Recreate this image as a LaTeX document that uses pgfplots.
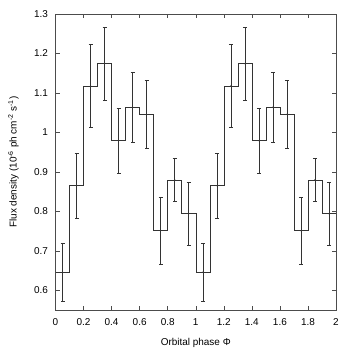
\documentclass[border=0pt]{standalone}
\usepackage{fontspec}
\setmainfont{Liberation Sans}
\usepackage{pgfplots}
\pgfplotsset{compat=1.18}
\usepackage{pgfplotstable}

\pgfplotstableread{
x     y      e
0.05  0.646  0.073
0.15  0.865  0.082
0.25  1.118  0.105
0.35  1.174  0.093
0.45  0.979  0.082
0.55  1.064  0.089
0.65  1.046  0.087
0.75  0.751  0.086
0.85  0.880  0.055
0.95  0.794  0.081
1.05  0.646  0.073
1.15  0.865  0.082
1.25  1.118  0.105
1.35  1.174  0.093
1.45  0.979  0.082
1.55  1.064  0.089
1.65  1.046  0.087
1.75  0.751  0.086
1.85  0.880  0.055
1.95  0.794  0.081
}\fluxdata

\begin{document}
\fontsize{10}{12}\selectfont
\begin{tikzpicture}
\useasboundingbox (-55.5bp,-44bp) rectangle (298.5bp,310bp);
\begin{axis}[scale only axis, width=280.5bp, height=296bp,
  xmin=0, xmax=2, ymin=0.55, ymax=1.3,
  xtick={0,0.2,...,2.01}, ytick={0.6,0.7,...,1.31},
  tick align=inside, major tick length=4bp,
  axis line style={gray!60!black, line width=0.6pt},
  every tick/.style={gray!60!black, line width=0.5pt},
  /pgf/number format/assume math mode=true,
  ticklabel style={font=\fontsize{10}{12}\selectfont},
  xticklabel style={yshift=-5bp},
  yticklabel style={xshift=-4bp},
  label style={font=\fontsize{10}{12}\selectfont},
  xlabel={Orbital phase Φ},
  ylabel={Flux density (10\textsuperscript{-6} ph cm\textsuperscript{-2} s\textsuperscript{-1})},
  xlabel style={at={(axis description cs:0.5,0)}, anchor=center, yshift=-33bp},
  ylabel style={at={(axis description cs:0,0.5)}, anchor=center, xshift=0bp, yshift=42bp},
  ]
\addplot[const plot, black!80, line width=0.5pt] coordinates {
  (0,0.646) (0.1,0.865) (0.2,1.118) (0.3,1.174) (0.4,0.979) (0.5,1.064)
  (0.6,1.046) (0.7,0.751) (0.8,0.880) (0.9,0.794)
  (1.0,0.646) (1.1,0.865) (1.2,1.118) (1.3,1.174) (1.4,0.979) (1.5,1.064)
  (1.6,1.046) (1.7,0.751) (1.8,0.880) (1.9,0.794) (2.0,0.794)};
\addplot[only marks, mark=*, mark size=0.3pt, black!80,
  error bars/.cd, y dir=both, y explicit,
  error bar style={black!80, line width=0.5pt},
  error mark options={rotate=90, mark size=2bp, black!80}]
  table[x=x, y=y, y error=e] {\fluxdata};
\end{axis}
\end{tikzpicture}
\end{document}
